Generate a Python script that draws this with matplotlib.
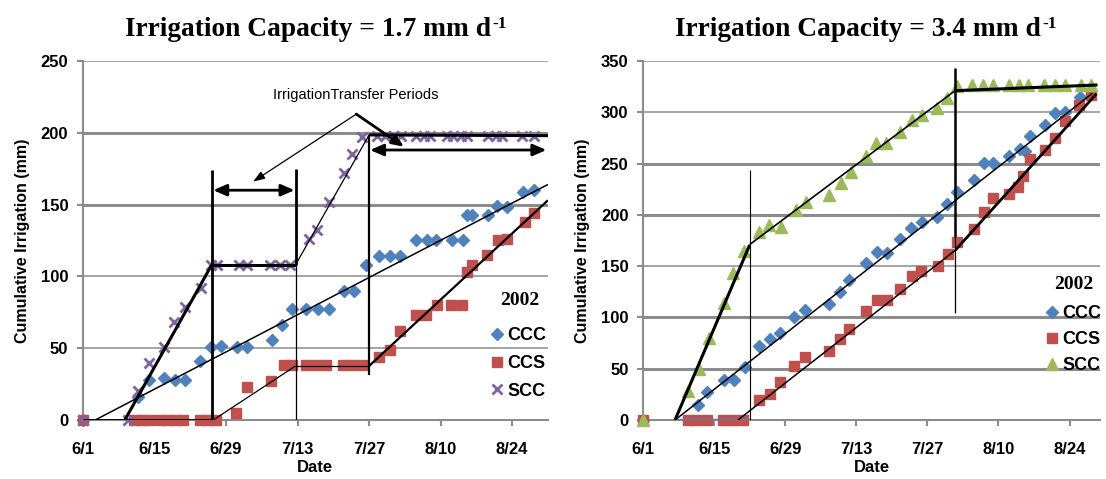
import matplotlib
matplotlib.use('Agg')
import matplotlib.pyplot as plt
from matplotlib.lines import Line2D

# ---- data (days since June 1, 2002) ----
tick_days = [0, 14, 28, 42, 56, 70, 84]
tick_labels = ['6/1', '6/15', '6/29', '7/13', '7/27', '8/10', '8/24']

# left panel: 1.7 mm/d
L_ccc_day = [0, 10.8, 12.9, 15.9, 18.0, 20.0, 22.9, 25.0, 27.0, 30.1, 32.1, 37.0, 39.0, 40.9,
             43.7, 46.1, 48.1, 51.0, 53.0, 55.3, 58.0, 60.0, 62.0, 65.1, 67.3, 69.0, 72.3, 74.3,
             75.2, 76.2, 79.2, 81.1, 83.0, 86.2, 88.3]
L_ccc_val = [0, 16, 28, 29, 28, 28, 41, 51, 51.5, 51, 50.5, 56, 66, 77,
             77, 77, 77, 90, 90, 108, 114, 114, 114, 125, 125, 125, 125, 125,
             143, 143, 143, 149, 148, 159, 160]
L_ccs_day = [0, 10.0, 11.5, 13.0, 15.0, 16.5, 18.0, 19.5, 23.0, 24.5, 26.0, 29.9, 32.1, 36.9,
             39.3, 40.9, 43.7, 45.7, 47.6, 50.8, 52.7, 54.7, 58.0, 60.1, 62.0, 65.1, 67.1, 69.2,
             72.1, 74.2, 75.2, 76.2, 79.0, 81.3, 83.0, 86.5, 88.3]
L_ccs_val = [0, 0, 0, 0, 0, 0, 0, 0, 0, 0, 0, 5, 23, 27,
             38, 38, 38, 38, 38, 38, 38, 38, 44, 49, 62, 73, 73, 80,
             80, 80, 103, 108, 115, 125, 126, 138, 144]
L_scc_day = [0, 8.8, 10.8, 12.9, 15.9, 17.8, 19.9, 23.1, 25.0, 26.2, 30.5, 32.1, 36.7, 38.6,
             40.6, 44.3, 45.8, 48.1, 51.0, 52.7, 54.6, 57.6, 59.2, 60.9, 62.2, 65.1, 66.7, 68.0,
             71.3, 72.5, 73.9, 75.2, 79.2, 80.8, 82.1, 86.0, 88.3]
L_scc_val = [0, 0, 20, 40, 51, 68, 79, 92, 108, 108, 108, 108, 108, 108,
             108, 126, 132, 152, 172, 185, 197, 198, 198, 198, 198, 198, 198, 198,
             198, 198, 198, 198, 198, 198, 198, 198, 198]

# right panel: 3.4 mm/d
R_ccc_day = [0, 10.8, 12.6, 15.9, 17.9, 20.0, 22.9, 25.0, 27.0, 29.8, 31.8, 36.7, 38.8, 40.6,
             44.0, 46.0, 48.1, 50.7, 52.7, 55.0, 57.9, 59.9, 61.8, 65.1, 67.1, 69.0, 72.0, 74.3,
             75.2, 76.2, 79.2, 81.1, 83.1, 86.0]
R_ccc_val = [0, 15, 27, 39, 39, 52, 72, 79, 85, 100, 107, 113, 125, 136,
             153, 164, 163, 176, 187, 193, 198, 211, 222, 234, 251, 251, 257, 264,
             262, 277, 288, 299, 300, 315]
R_ccs_day = [0, 8.9, 10.5, 12.5, 15.7, 17.7, 19.7, 22.9, 25.0, 27.0, 29.8, 31.8, 36.7, 38.8,
             40.6, 44.0, 46.1, 48.1, 50.7, 52.9, 54.8, 58.0, 60.0, 61.8, 65.1, 67.1, 69.0, 72.0,
             73.9, 74.9, 76.2, 79.2, 81.1, 83.1, 85.8, 88.3]
R_ccs_val = [0, 0, 0, 0, 0, 0, 0, 19, 25, 37, 53, 61, 67, 79,
             89, 106, 117, 117, 128, 140, 145, 150, 162, 174, 186, 203, 216, 220,
             227, 238, 254, 263, 275, 291, 307, 317]
R_scc_day = [0, 8.9, 11.0, 13.0, 15.9, 17.8, 19.8, 22.8, 24.9, 27.2, 30.1, 32.1, 36.7, 39.0,
             40.9, 43.9, 45.8, 47.8, 50.7, 53.0, 55.0, 57.9, 59.9, 61.8, 64.8, 66.9, 68.9, 72.0,
             74.0, 75.9, 78.9, 81.1, 83.1, 86.3, 88.3]
R_scc_val = [0, 28, 50, 80, 114, 143, 165, 183, 190, 188, 205, 213, 219, 231,
             242, 257, 270, 270, 281, 292, 297, 304, 314, 326, 327, 327, 327, 327,
             327, 327, 327, 327, 327, 327, 327]

# fitted segments (x list, y list, linewidth)
L_fits = [
    ([0, 25.5], [0, 0], 2.0),
    ([8.2, 25.2], [0, 108], 2.2),
    ([25.2, 41.6], [108, 108], 2.2),
    ([41.6, 56.0], [108, 198.5], 0.9),
    ([56.0, 91.0], [198.5, 198], 2.2),
    ([2.4, 91.0], [0, 164], 1.1),
    ([25.5, 41.6], [0, 37.6], 0.9),
    ([41.6, 56.0], [37.6, 37.6], 0.9),
    ([56.0, 91.0], [37.6, 153], 1.6),
    ([25.2, 25.2], [0, 174], 2.0),
    ([41.6, 41.6], [108, 175], 2.0),
    ([41.6, 41.6], [0, 108], 0.9),
    ([56.0, 56.0], [31, 198.5], 1.6),
]
R_fits = [
    ([6.3, 21.0], [0, 170.6], 2.2),
    ([21.0, 61.3], [171, 320.5], 1.2),
    ([61.3, 89.5], [321, 326.6], 2.2),
    ([6.3, 88.5], [0, 318.5], 1.1),
    ([18.7, 61.5], [0, 165.5], 1.1),
    ([61.5, 89.3], [165.5, 318], 2.0),
    ([21.1, 21.1], [0, 244], 0.8),
    ([61.4, 61.4], [104, 178], 0.9),
    ([61.4, 61.4], [178, 343], 1.8),
]

C_CCC = '#4F81BD'
C_CCS = '#C0504D'
C_SCC_X = '#8064A2'
C_SCC_T = '#9BBB59'
GRID = '#8C8C8C'

SANS = 'Liberation Sans'
SERIF = 'Liberation Serif'

fig = plt.figure(figsize=(11.06, 4.79), dpi=100)
axL = fig.add_axes([0.075, 0.1232, 0.4204, 0.7495])
axR = fig.add_axes([0.5814, 0.1232, 0.4132, 0.7495])


def style_axis(ax, ymax, xmax, thick_levels):
    ax.set_xlim(0, xmax)
    ax.set_ylim(0, ymax)
    for lvl in range(50, ymax + 1, 50):
        lw = 2.2 if lvl in thick_levels else 1.1
        ax.axhline(lvl, color=GRID, lw=lw, zorder=0)
    for s in ['top', 'right']:
        ax.spines[s].set_visible(False)
    for s in ['left', 'bottom']:
        ax.spines[s].set_color(GRID)
        ax.spines[s].set_linewidth(1.5)
    ax.set_xticks(tick_days)
    ax.set_xticklabels(tick_labels)
    ax.set_yticks(range(0, ymax + 1, 50))
    ax.tick_params(axis='both', direction='out', length=4.5, width=1.5, color=GRID,
                   labelsize=12, pad=6)
    ax.tick_params(axis='x', pad=11.5)
    for lab in ax.get_xticklabels() + ax.get_yticklabels():
        lab.set_fontfamily(SANS)
        lab.set_fontweight('bold')
    ax.set_xlabel('Date', fontsize=12, fontweight='bold', family=SANS, labelpad=2)
    ax.set_ylabel('Cumulative Irrigation (mm)', fontsize=11.5, fontweight='bold',
                  family=SANS, labelpad=8)


def add_title(ax, text, xpos):
    t = ax.set_title(text, fontsize=19.7, fontweight='bold', family=SERIF, pad=18, x=xpos)
    ax.annotate('-1', xy=(1, 1), xycoords=t, xytext=(1, 1), textcoords='offset points',
                ha='left', va='top', fontsize=12.5, fontweight='bold', family=SERIF)


def add_legend(ax, handles, x, y, spacing, title_xy):
    ax.legend(handles=handles, loc='upper left', bbox_to_anchor=(x, y), frameon=False,
              handlelength=0.6, handletextpad=0.25, labelspacing=spacing, borderpad=0,
              prop={'family': SANS, 'weight': 'bold', 'size': 13})
    ax.text(title_xy[0], title_xy[1], '2002', transform=ax.transAxes, ha='center',
            va='center', fontsize=14, fontweight='bold', family=SERIF)


style_axis(axL, 250, 91, [150, 200])
style_axis(axR, 350, 90, [50, 100, 200, 250])

# ---- left panel ----
axL.plot(L_ccc_day, L_ccc_val, 'D', color=C_CCC, ms=6, ls='none', zorder=3, clip_on=False)
axL.plot(L_ccs_day, L_ccs_val, 's', color=C_CCS, ms=7.5, ls='none', zorder=3, clip_on=False)
axL.plot(L_scc_day, L_scc_val, 'x', color=C_SCC_X, ms=7, mew=2, ls='none', zorder=4,
         clip_on=False)
for xs, ys, lw in L_fits:
    axL.plot(xs, ys, color='black', lw=lw, zorder=5, solid_capstyle='butt')

arrow2 = dict(arrowstyle='<|-|>,head_length=0.8,head_width=0.35', lw=2, color='black',
              shrinkA=0, shrinkB=0)
axL.annotate('', xy=(41.4, 160), xytext=(25.5, 160), arrowprops=arrow2, zorder=6)
axL.annotate('', xy=(90.7, 188), xytext=(56.2, 188), arrowprops=arrow2, zorder=6)
axL.annotate('', xy=(33.3, 166), xytext=(53.5, 213),
             arrowprops=dict(arrowstyle='-|>,head_length=0.7,head_width=0.25', lw=0.9,
                             color='black', shrinkA=0, shrinkB=0), zorder=6)
axL.annotate('', xy=(62.8, 190.3), xytext=(53.5, 213),
             arrowprops=dict(arrowstyle='-|>,head_length=0.7,head_width=0.3', lw=2,
                             color='black', shrinkA=0, shrinkB=0), zorder=6)
axL.text(53.3, 226, 'IrrigationTransfer Periods', ha='center', va='center',
         fontsize=10.5, family=SANS)
add_title(axL, 'Irrigation Capacity = 1.7 mm d', 0.483)

add_legend(axL, [
    Line2D([], [], marker='D', color=C_CCC, ls='none', ms=6, label='CCC'),
    Line2D([], [], marker='s', color=C_CCS, ls='none', ms=7.5, label='CCS'),
    Line2D([], [], marker='x', color=C_SCC_X, mew=2, ls='none', ms=7, label='SCC')],
    0.86, 0.284, 0.6, (0.94, 0.334))

# ---- right panel ----
axR.plot(R_ccc_day, R_ccc_val, 'D', color=C_CCC, ms=6, ls='none', zorder=3, clip_on=False)
axR.plot(R_ccs_day, R_ccs_val, 's', color=C_CCS, ms=7.5, ls='none', zorder=3, clip_on=False)
axR.plot(R_scc_day, R_scc_val, '^', color=C_SCC_T, ms=9, ls='none', zorder=4, clip_on=False)
axR.plot([6.3, 20.5], [0.5, 0.5], color=C_CCC, lw=1, zorder=5)
for xs, ys, lw in R_fits:
    axR.plot(xs, ys, color='black', lw=lw, zorder=5, solid_capstyle='butt')
add_title(axR, 'Irrigation Capacity = 3.4 mm d', 0.47)

add_legend(axR, [
    Line2D([], [], marker='D', color=C_CCC, ls='none', ms=6, label='CCC'),
    Line2D([], [], marker='s', color=C_CCS, ls='none', ms=7.5, label='CCS'),
    Line2D([], [], marker='^', color=C_SCC_T, ls='none', ms=9, label='SCC')],
    0.864, 0.345, 0.5, (0.943, 0.376))

fig.savefig('out.png', dpi=100, facecolor='white')
